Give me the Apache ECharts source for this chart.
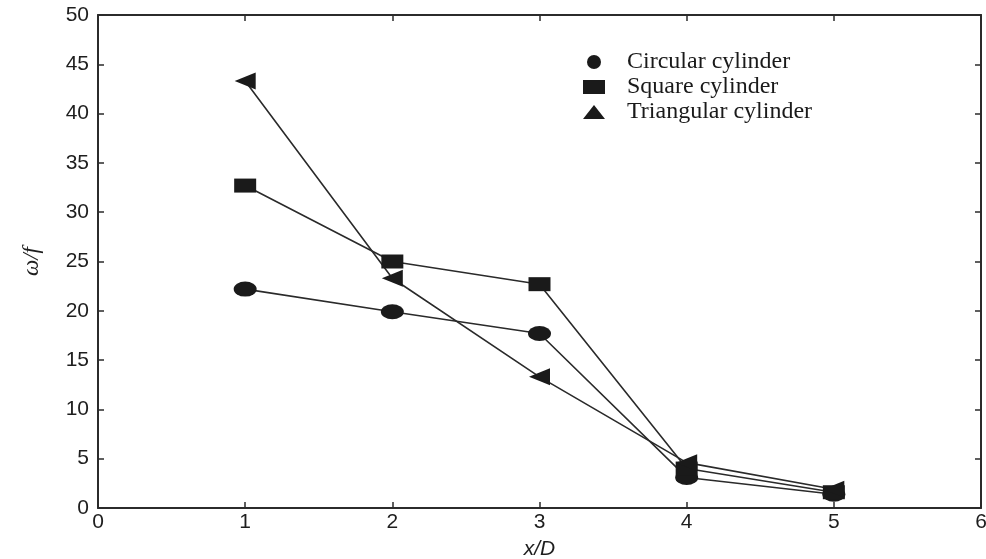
<!DOCTYPE html>
<html>
<head>
<meta charset="utf-8">
<script src="https://cdn.jsdelivr.net/npm/echarts@6/dist/echarts.min.js"></script>
<style>
  html, body { margin: 0; padding: 0; background: #fff; }
  #chart { width: 986px; height: 559px; }
</style>
</head>
<body>
<div id="chart"></div>
<script>
// Normalised downstream distance x/D
const xPositions = [1, 2, 3, 4, 5];
// ω/f for each cylinder shape
const circularValues = [22.2, 19.9, 17.7, 3.1, 1.4];
const squareValues = [32.7, 25.0, 22.7, 4.0, 1.6];
const triangularValues = [43.3, 23.3, 13.3, 4.6, 1.9];
const seriesNames = ['Circular cylinder', 'Square cylinder', 'Triangular cylinder'];

const toPairs = vals => xPositions.map((x, i) => [x, vals[i]]);

const ink = '#1a1a1a';
const frame = '#2b2b2b';
const tickFont = { fontFamily: 'Liberation Sans, Arial, sans-serif', fontSize: 21, color: '#1e1e1e' };

const lineStyle = { color: '#2a2a2a', width: 1.6 };

function makeSeries(name, vals, symbol, size, rotate) {
  return {
    name: name,
    type: 'line',
    data: toPairs(vals),
    symbol: symbol,
    symbolSize: size,
    symbolRotate: rotate || 0,
    showAllSymbol: true,
    lineStyle: lineStyle,
    itemStyle: { color: ink, borderWidth: 0 },
    emphasis: { disabled: true },
    z: 3
  };
}

// Plain frame axis: line plus inward ticks, no labels
function frameAxis(extra) {
  return Object.assign({
    type: 'value',
    axisLine: { show: true, onZero: false, lineStyle: { color: frame, width: 2 } },
    axisTick: { show: true, inside: true, length: 6, lineStyle: { color: frame, width: 1.5 } },
    axisLabel: { show: false },
    splitLine: { show: false }
  }, extra);
}

const chart = echarts.init(document.getElementById('chart'), null, { renderer: 'canvas' });

chart.setOption({
  animation: false,
  backgroundColor: '#fff',
  grid: { left: 98, right: 5, top: 15, bottom: 51, containLabel: false, outerBoundsMode: 'none' },
  legend: {
    orient: 'vertical',
    left: 578,
    top: 45,
    itemGap: 1,
    itemWidth: 22,
    itemHeight: 14,
    textStyle: { fontFamily: 'Liberation Serif, Times New Roman, serif', fontSize: 24, color: '#1a1a1a', padding: [0, 0, 0, 17] },
    data: [
      { name: seriesNames[0], icon: 'circle' },
      { name: seriesNames[1], icon: 'rect' },
      { name: seriesNames[2], icon: 'triangle' }
    ],
    selectedMode: false
  },
  xAxis: [frameAxis({
    min: 0, max: 6, interval: 1,
    name: 'x/D',
    nameLocation: 'middle',
    nameGap: 31,
    nameTextStyle: { fontFamily: 'Liberation Sans, Arial, sans-serif', fontSize: 21, fontStyle: 'italic', color: '#1e1e1e' },
    axisLabel: Object.assign({ show: true, margin: 4 }, tickFont)
  }), frameAxis({
    position: 'top',
    min: 0, max: 6, interval: 1
  })],
  yAxis: [frameAxis({
    min: 0, max: 50, interval: 5,
    name: 'ω/f',
    nameLocation: 'middle',
    nameGap: 55,
    nameRotate: 90,
    nameTextStyle: { fontFamily: 'Liberation Serif, Times New Roman, serif', fontSize: 23, fontStyle: 'italic', color: '#1e1e1e' },
    axisLabel: Object.assign({ show: true, margin: 9 }, tickFont)
  }), frameAxis({
    position: 'right',
    min: 0, max: 50, interval: 5
  })],
  series: [
    makeSeries(seriesNames[0], circularValues, 'circle', [23, 15]),
    makeSeries(seriesNames[1], squareValues, 'rect', [22, 14]),
    makeSeries(seriesNames[2], triangularValues, 'triangle', [17, 21], 90)
  ]
});
</script>
</body>
</html>
